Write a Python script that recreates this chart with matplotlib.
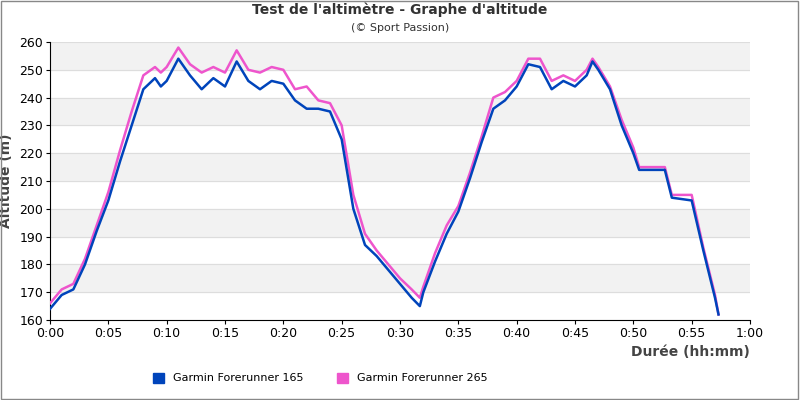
import matplotlib
matplotlib.use("Agg")
import matplotlib.pyplot as plt
from matplotlib.patches import Patch

t = [0,1,2,3,4,5,6,7,8,9,9.5,10,11,12,13,14,15,16,17,18,19,20,21,22,23,24,25,26,27,28,29,30,31,31.7,32,33,34,35,36,37,38,39,40,41,42,43,44,45,46,46.5,47,48,49,50,50.5,52.7,53.3,55,56,57,57.3]
fr165 = [164,169,171,180,192,203,217,230,243,247,244,246,254,248,243,247,244,253,246,243,246,245,239,236,236,235,225,200,187,183,178,173,168,165,170,181,191,199,211,224,236,239,244,252,251,243,246,244,248,253,250,243,230,220,214,214,204,203,185,168,162]
fr265 = [166,171,173,182,194,206,221,235,248,251,249,251,258,252,249,251,249,257,250,249,251,250,243,244,239,238,230,205,191,185,180,175,171,168,172,184,194,201,213,226,240,242,246,254,254,246,248,246,250,254,251,244,232,222,215,215,205,205,186,169,162]
xticks = list(range(0, 61, 5))
xlabels = ["0:00","0:05","0:10","0:15","0:20","0:25","0:30","0:35","0:40","0:45","0:50","0:55","1:00"]

fig = plt.figure(figsize=(8, 4), dpi=100)
ax = fig.add_axes([0.0625, 0.2, 0.875, 0.695])
for y0 in range(160, 260, 20):
    ax.axhspan(y0 + 10, y0 + 20, color="#f2f2f2", zorder=0)
ax.plot(t, fr265, color="#ee55cc", lw=1.8, zorder=3)
ax.plot(t, fr165, color="#0044bb", lw=1.8, zorder=4)
ax.set_xlim(0, 60); ax.set_ylim(160, 260)
ax.set_xticks(xticks); ax.set_xticklabels(xlabels, fontsize=9)
ax.set_yticks(range(160, 261, 10))
ax.tick_params(labelsize=9, length=3, pad=2)
ax.grid(axis="y", color="#dddddd", lw=0.8, zorder=1)
for s in ["top", "right"]:
    ax.spines[s].set_visible(False)
ax.set_ylabel("Altitude (m)", fontsize=10, fontweight="bold", color="#444444", labelpad=2)
ax.yaxis.set_label_coords(-0.053, 0.5)
ax.set_xlabel("Durée (hh:mm)", fontsize=10, fontweight="bold", color="#444444", loc="right")
fig.text(0.5, 0.965, "Test de l'altimètre - Graphe d'altitude", ha="center", fontsize=10, fontweight="bold", color="#333333")
fig.text(0.5, 0.922, "(© Sport Passion)", ha="center", fontsize=8, color="#333333")
handles = [Patch(color="#0044bb", label="Garmin Forerunner 165"), Patch(color="#ee55cc", label="Garmin Forerunner 265")]
fig.legend(handles=handles, loc="center", bbox_to_anchor=(0.4, 0.055), ncol=2, frameon=False, fontsize=8, handlelength=1, handleheight=1, columnspacing=3)
fig.patches.append(plt.Rectangle((0.001, 0.002), 0.997, 0.996, transform=fig.transFigure, fill=False, ec="#888888", lw=1))
fig.savefig("out.png")
